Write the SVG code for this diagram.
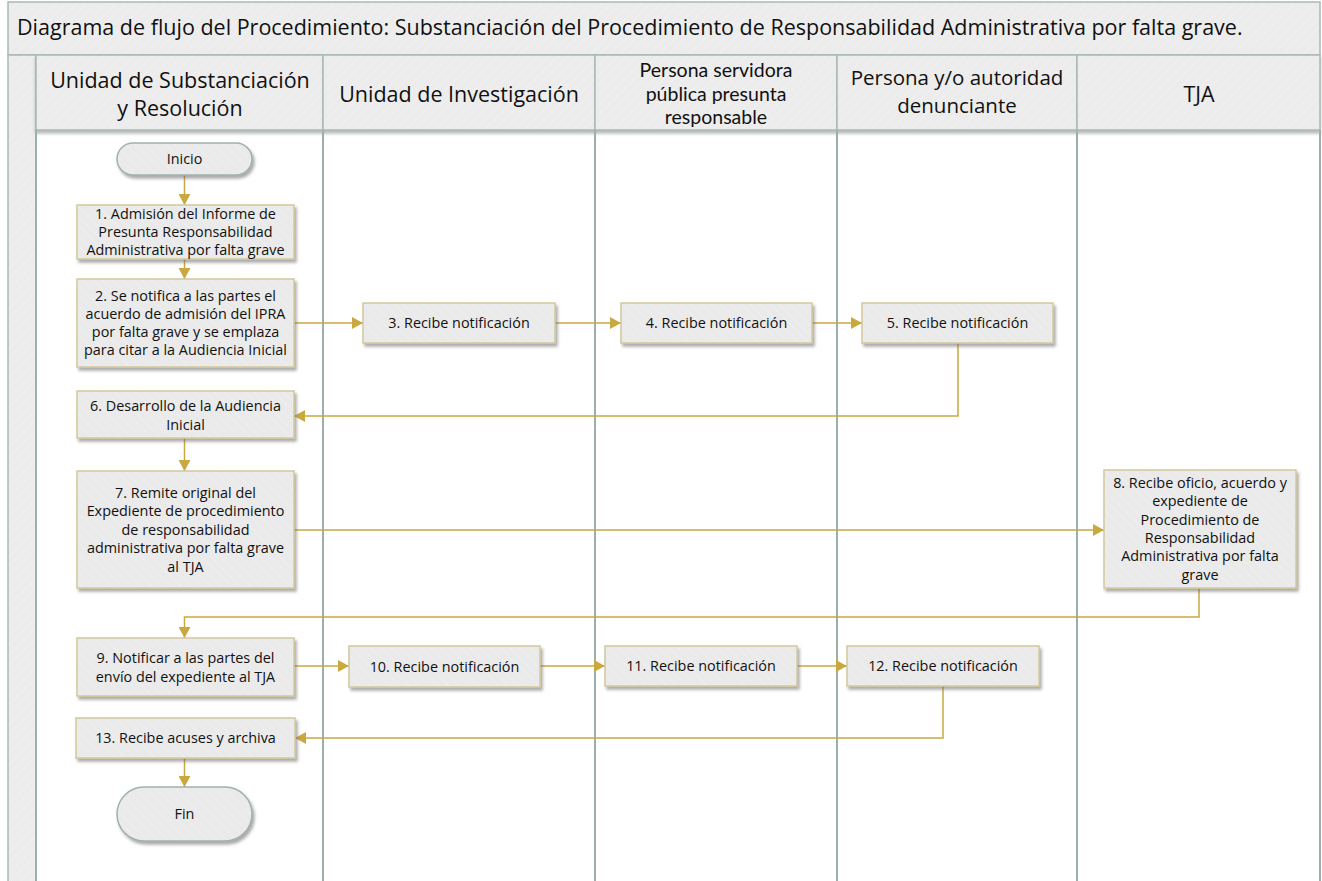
<svg xmlns="http://www.w3.org/2000/svg" width="1322" height="881" viewBox="0 0 1322 881">
<defs>
<pattern id="hatchH" width="7" height="7" patternUnits="userSpaceOnUse" patternTransform="rotate(45)">
<rect width="7" height="7" fill="#ececec"/>
<line x1="0" y1="0" x2="0" y2="7" stroke="#f4f4f4" stroke-width="1.2"/>
</pattern>
<pattern id="hatchN" width="7" height="7" patternUnits="userSpaceOnUse" patternTransform="rotate(-45)">
<rect width="7" height="7" fill="#eaeaea"/>
<line x1="0" y1="0" x2="0" y2="7" stroke="#f1f1f1" stroke-width="1.2"/>
</pattern>
<filter id="sh" x="-10%" y="-10%" width="125%" height="140%">
<feDropShadow dx="2" dy="3" stdDeviation="1.8" flood-color="#666" flood-opacity="0.55"/>
</filter>
<filter id="shH" x="-5%" y="-10%" width="110%" height="130%">
<feDropShadow dx="0" dy="3" stdDeviation="1.5" flood-color="#777" flood-opacity="0.5"/>
</filter>
<marker id="ah" markerWidth="12" markerHeight="12" refX="11" refY="6" orient="auto" markerUnits="userSpaceOnUse">
<path d="M0,0 L11,6 L0,12 Z" fill="#c9a93f"/>
</marker>
<style>
.title{font-family:"Open Sans","Noto Sans",sans-serif;font-size:21.5px;fill:#111}
.hd{font-family:"Open Sans","Noto Sans",sans-serif;font-size:21.5px;fill:#111;text-anchor:middle}
.hd2{font-family:"Open Sans","Noto Sans",sans-serif;font-size:20.5px;fill:#111;text-anchor:middle}
.hd3{font-family:Lato,"Open Sans",sans-serif;font-size:19.5px;fill:#111;text-anchor:middle}
.nt{font-family:"Open Sans","Noto Sans",sans-serif;font-size:14.4px;fill:#111;text-anchor:middle}
.box{fill:url(#hatchN);stroke:#d3c89c;stroke-width:1.5;filter:url(#sh)}
.term{fill:url(#hatchN);stroke:#9fb2ab;stroke-width:1.5;filter:url(#sh)}
.hcell{fill:url(#hatchH);stroke:#a9bab3;stroke-width:1.5}
.lane{stroke:#9bb0a9;stroke-width:2;fill:none}
.conn{stroke:#c9a93f;stroke-width:1.5;fill:none}
</style>
</defs>
<rect width="1322" height="881" fill="#ffffff"/>
<g id="pool">
<rect class="hcell" x="8" y="2" width="1312" height="53"/>
<text class="title" x="17" y="35">Diagrama de flujo del Procedimiento: Substanciación del Procedimiento de Responsabilidad Administrativa por falta grave.</text>
<rect class="hcell" x="8" y="55" width="28" height="830"/>
<g filter="url(#shH)">
<rect class="hcell" x="36" y="55" width="287" height="75"/>
<rect class="hcell" x="323" y="55" width="272" height="75"/>
<rect class="hcell" x="595" y="55" width="242" height="75"/>
<rect class="hcell" x="837" y="55" width="240" height="75"/>
<rect class="hcell" x="1077" y="55" width="243" height="75"/>
</g>
<text class="hd" x="180" y="87.5">Unidad de Substanciación</text>
<text class="hd" x="180" y="115.5">y Resolución</text>
<text class="hd" x="459" y="101.5">Unidad de Investigación</text>
<text class="hd3" x="716" y="77">Persona servidora</text>
<text class="hd3" x="716" y="100.5">pública presunta</text>
<text class="hd3" x="716" y="124">responsable</text>
<text class="hd2" x="957" y="85">Persona y/o autoridad</text>
<text class="hd2" x="957" y="112.5">denunciante</text>
<text class="hd" x="1199" y="101.5">TJA</text>
<line class="lane" x1="36" y1="130" x2="36" y2="881"/>
<line class="lane" x1="323" y1="130" x2="323" y2="881"/>
<line class="lane" x1="595" y1="130" x2="595" y2="881"/>
<line class="lane" x1="837" y1="130" x2="837" y2="881"/>
<line class="lane" x1="1077" y1="130" x2="1077" y2="881"/>
<line class="lane" x1="1320" y1="130" x2="1320" y2="881"/>
</g>
<g id="connectors">
<path class="conn" d="M184.5,175 V205" marker-end="url(#ah)"/>
<path class="conn" d="M184.5,259 V279" marker-end="url(#ah)"/>
<path class="conn" d="M294,323 H363" marker-end="url(#ah)"/>
<path class="conn" d="M555,323 H621" marker-end="url(#ah)"/>
<path class="conn" d="M812,323 H862" marker-end="url(#ah)"/>
<path class="conn" d="M958,343 V416 H294" marker-end="url(#ah)"/>
<path class="conn" d="M184.5,438 V471" marker-end="url(#ah)"/>
<path class="conn" d="M294,530 H1104" marker-end="url(#ah)"/>
<path class="conn" d="M1199,588 V617 H184.5 V638" marker-end="url(#ah)"/>
<path class="conn" d="M294,666 H349" marker-end="url(#ah)"/>
<path class="conn" d="M540,666 H605" marker-end="url(#ah)"/>
<path class="conn" d="M797,666 H847" marker-end="url(#ah)"/>
<path class="conn" d="M943,686 V738 H295" marker-end="url(#ah)"/>
<path class="conn" d="M184.5,758 V787" marker-end="url(#ah)"/>
</g>
<g id="inicio">
<rect class="term" x="117" y="143" width="135" height="32" rx="16"/>
<text class="nt" x="184.5" y="164">Inicio</text>
</g>
<g id="n1">
<rect class="box" x="77" y="205" width="217" height="54"/>
<text class="nt" x="185.5" y="218.5">1. Admisión del Informe de</text>
<text class="nt" x="185.5" y="236.5">Presunta Responsabilidad</text>
<text class="nt" x="185.5" y="254.5">Administrativa por falta grave</text>
</g>
<g id="n2">
<rect class="box" x="77" y="279" width="217" height="88"/>
<text class="nt" x="185.5" y="301">2. Se notifica a las partes el</text>
<text class="nt" x="185.5" y="319">acuerdo de admisión del IPRA</text>
<text class="nt" x="185.5" y="337">por falta grave y se emplaza</text>
<text class="nt" x="185.5" y="355">para citar a la Audiencia Inicial</text>
</g>
<g id="n3">
<rect class="box" x="363" y="303" width="192" height="40"/>
<text class="nt" x="459" y="328">3. Recibe notificación</text>
</g>
<g id="n4">
<rect class="box" x="621" y="303" width="191" height="40"/>
<text class="nt" x="716.5" y="328">4. Recibe notificación</text>
</g>
<g id="n5">
<rect class="box" x="862" y="303" width="191" height="40"/>
<text class="nt" x="957.5" y="328">5. Recibe notificación</text>
</g>
<g id="n6">
<rect class="box" x="77" y="391" width="217" height="47"/>
<text class="nt" x="185.5" y="410.5">6. Desarrollo de la Audiencia</text>
<text class="nt" x="185.5" y="429.5">Inicial</text>
</g>
<g id="n7">
<rect class="box" x="77" y="471" width="217" height="117"/>
<text class="nt" x="185.5" y="497.5">7. Remite original del</text>
<text class="nt" x="185.5" y="516">Expediente de procedimiento</text>
<text class="nt" x="185.5" y="534.5">de responsabilidad</text>
<text class="nt" x="185.5" y="553">administrativa por falta grave</text>
<text class="nt" x="185.5" y="571.5">al TJA</text>
</g>
<g id="n8">
<rect class="box" x="1104" y="470" width="192" height="118"/>
<text class="nt" x="1200" y="487.5">8. Recibe oficio, acuerdo y</text>
<text class="nt" x="1200" y="506">expediente de</text>
<text class="nt" x="1200" y="524.5">Procedimiento de</text>
<text class="nt" x="1200" y="543">Responsabilidad</text>
<text class="nt" x="1200" y="561">Administrativa por falta</text>
<text class="nt" x="1200" y="579.5">grave</text>
</g>
<g id="n9">
<rect class="box" x="77" y="638" width="217" height="58"/>
<text class="nt" x="185.5" y="662.5">9. Notificar a las partes del</text>
<text class="nt" x="185.5" y="682">envío del expediente al TJA</text>
</g>
<g id="n10">
<rect class="box" x="349" y="646" width="191" height="41"/>
<text class="nt" x="444.5" y="671.5">10. Recibe notificación</text>
</g>
<g id="n11">
<rect class="box" x="605" y="646" width="192" height="40"/>
<text class="nt" x="701" y="671">11. Recibe notificación</text>
</g>
<g id="n12">
<rect class="box" x="847" y="646" width="192" height="40"/>
<text class="nt" x="943" y="671">12. Recibe notificación</text>
</g>
<g id="n13">
<rect class="box" x="76" y="718" width="219" height="40"/>
<text class="nt" x="185.5" y="743">13. Recibe acuses y archiva</text>
</g>
<g id="fin">
<rect class="term" x="117" y="787" width="135" height="54" rx="27"/>
<text class="nt" x="184.5" y="819">Fin</text>
</g>
</svg>
